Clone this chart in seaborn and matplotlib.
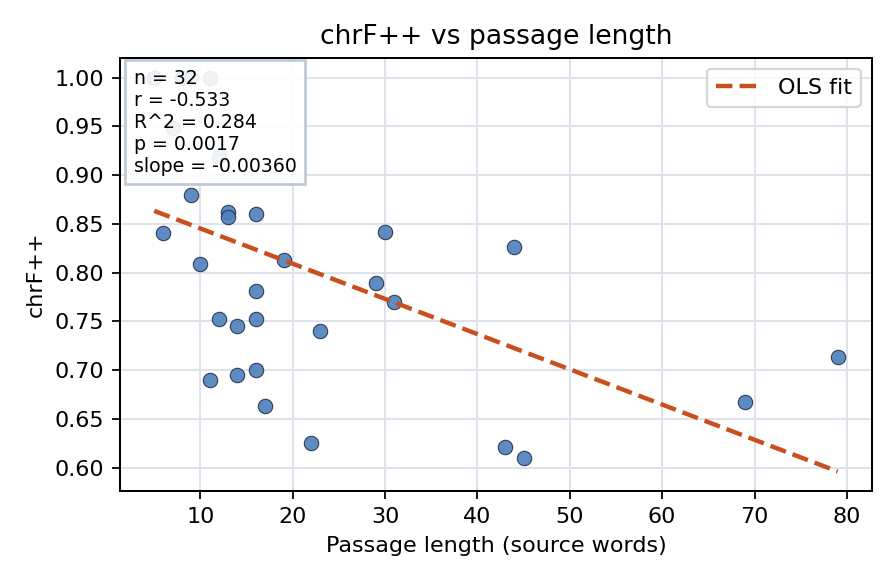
import numpy as np
import pandas as pd
import seaborn as sns
import matplotlib
matplotlib.use("Agg")
import matplotlib.pyplot as plt

# passage length (source words) and chrF++ per passage
passage_len = [5, 5, 8, 9, 11, 7, 12, 9, 6, 13, 13, 16, 10, 19, 30, 44,
               29, 31, 16, 12, 14, 16, 23, 11, 14, 16, 17, 22, 43, 45, 69, 79]
chrf = [1.000, 1.000, 1.000, 1.000, 1.000, 0.948, 0.919, 0.880, 0.841, 0.862,
        0.857, 0.860, 0.809, 0.813, 0.842, 0.826, 0.789, 0.770, 0.781, 0.752,
        0.745, 0.752, 0.740, 0.690, 0.695, 0.700, 0.663, 0.625, 0.621, 0.610,
        0.667, 0.713]
stats_lines = ["n = 32", "r = -0.533", "R^2 = 0.284", "p = 0.0017", "slope = -0.00360"]

df = pd.DataFrame({"len": passage_len, "chrf": chrf})

sns.set_style("ticks", rc={"text.color": "black", "axes.labelcolor": "black",
                           "xtick.color": "black", "ytick.color": "black",
                           "axes.edgecolor": "black"})
plt.rcParams["font.family"] = ["DejaVu Sans"]

fig, ax = plt.subplots(figsize=(5.6, 3.65), dpi=160)
fig.subplots_adjust(left=0.134, right=0.973, top=0.901, bottom=0.159)

ax.grid(True, color="#dde3ec", linewidth=0.9)
ax.set_axisbelow(True)

sns.scatterplot(data=df, x="len", y="chrf", ax=ax, s=42, color="#4f81bd",
                edgecolor="#27344a", linewidth=0.5, alpha=0.92, zorder=3)

slope, intercept = np.polyfit(df["len"], df["chrf"], 1)
xs = np.array([df["len"].min(), df["len"].max()])
sns.lineplot(x=xs, y=intercept + slope * xs, ax=ax, color="#c8501e",
             linestyle="--", linewidth=2, label="OLS fit", zorder=4)

for s in ax.spines.values():
    s.set_visible(True)
    s.set_color("black")
    s.set_linewidth(0.9)

ax.set_title("chrF++ vs passage length", fontsize=12)
ax.set_xlabel("Passage length (source words)", fontsize=10)
ax.set_ylabel("chrF++", fontsize=10)
ax.tick_params(labelsize=10, colors="black")

ax.text(0.018, 0.975, "\n".join(stats_lines), transform=ax.transAxes,
        fontsize=8.5, va="top", ha="left", zorder=5, color="black",
        bbox=dict(boxstyle="square,pad=0.45", facecolor="white", alpha=0.9,
                  edgecolor="#b8c4d0", linewidth=1.2))

ax.legend(loc="upper right", fontsize=10)

fig.savefig("out.png", dpi=160)
